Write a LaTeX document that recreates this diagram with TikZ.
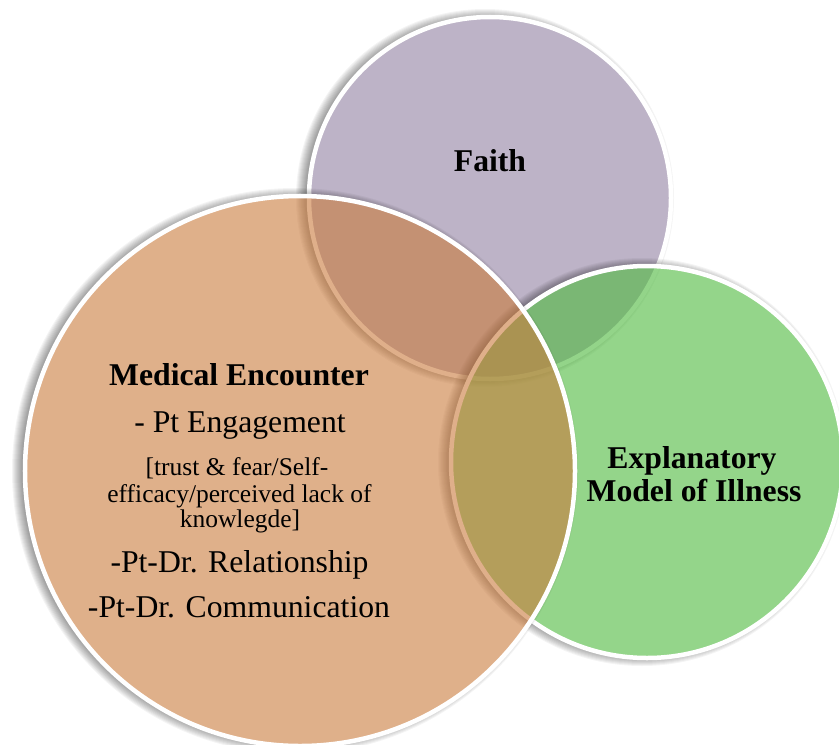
\documentclass[tikz,border=0pt]{standalone}
\usepackage{fontspec}
\setmainfont{Liberation Serif}

\definecolor{faithfill}{RGB}{189,179,199}
\definecolor{modelfill}{RGB}{82,187,66}
\definecolor{medfill}{RGB}{202,123,60}

\tikzset{
  linetext/.style={anchor=base, inner sep=0pt, text=black,
    font=\fontsize{31.7bp}{34bp}\selectfont},
  headtext/.style={anchor=base, inner sep=0pt, text=black,
    font=\fontsize{31.7bp}{34bp}\selectfont\bfseries},
  notetext/.style={anchor=base, inner sep=0pt, text=black,
    font=\fontsize{25.5bp}{26bp}\selectfont},
  rim/.style={draw=white, line width=4.5bp},
}

% soft drop shadow kept outside a circle: centre x, centre y, radius
\newcommand\ringshadow[3]{%
  \begin{scope}[even odd rule]
    \clip (-20,-20) rectangle (860,770)
      (#1,#2) circle[radius={(#3)*1bp}];
    \foreach \t in {-6,...,6}
      \fill[black, opacity=0.045] (#1-5,#2) circle[radius={(#3+2+\t)*1bp}];
  \end{scope}}

\begin{document}
\begin{tikzpicture}[x=1bp, y=-1bp]
  \useasboundingbox (0,0) rectangle (839,745);
  \clip (0,0) rectangle (839,745);

  \coordinate (faithc) at (490,198);
  \coordinate (modelc) at (647,462);
  \coordinate (medc)   at (300,471);

  % Faith circle (bottom layer)
  \ringshadow{490}{198}{181}
  \fill[faithfill] (faithc) circle[radius=181bp];
  \draw[rim] (faithc) circle[radius=181bp];

  % Explanatory model circle
  \ringshadow{647}{462}{196}
  \fill[modelfill, fill opacity=0.62] (modelc) circle[radius=196bp];
  \draw[rim] (modelc) circle[radius=196bp];

  % Medical encounter circle (top layer)
  \ringshadow{300}{471}{275}
  \fill[medfill, fill opacity=0.6] (medc) circle[radius=275bp];
  \draw[rim] (medc) circle[radius=275bp];

  % labels
  \node[headtext] (faith) at (490,171) {Faith};

  \node[headtext] (medhead) at (239,385) {Medical Encounter};
  \node[linetext] (med1) at (240,432) {- Pt Engagement};
  \node[notetext] (med2) at (237,475) {[trust \& fear/Self-};
  \node[notetext] (med3) at (239.5,502) {efficacy/perceived lack of};
  \node[notetext] (med4) at (240,527) {knowlegde]};
  \node[linetext] (med5) at (239.5,572) {-Pt-Dr. Relationship};
  \node[linetext] (med6) at (239,617) {-Pt-Dr. Communication};

  \node[headtext] (model1) at (692,468) {Explanatory};
  \node[headtext] (model2) at (694,501) {Model of Illness};
\end{tikzpicture}
\end{document}
